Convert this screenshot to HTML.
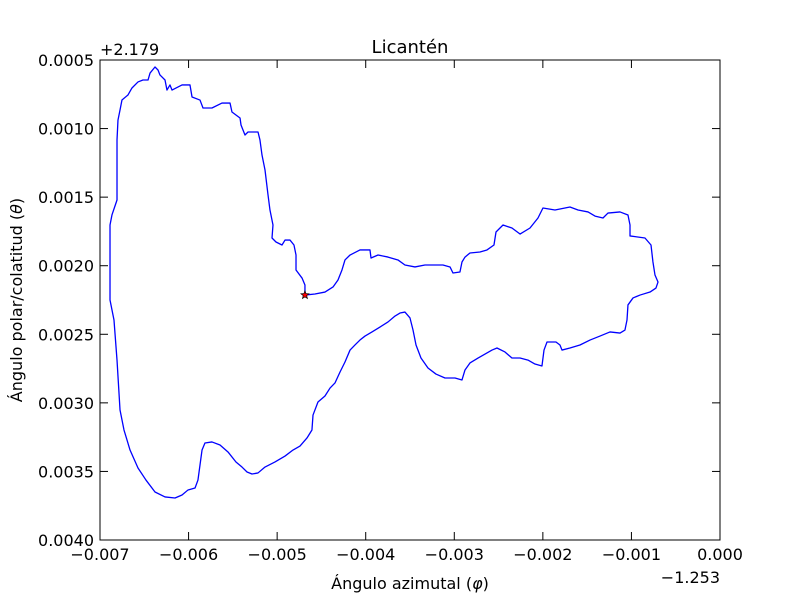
<!DOCTYPE html>
<html><head><meta charset="utf-8"><style>
body{margin:0;background:#fff;}
svg text{font-family:"DejaVu Sans","Liberation Sans",sans-serif;fill:#000;}
</style></head><body>
<svg id="chart" width="800" height="600" xmlns="http://www.w3.org/2000/svg">
<rect width="800" height="600" fill="#fff"/>
<text x="410" y="53" font-size="18" text-anchor="middle">Licantén</text>
<text x="100" y="55" font-size="16">+2.179</text>
<text x="720" y="583" font-size="16" text-anchor="end">−1.253</text>
<text x="410" y="589" font-size="16" text-anchor="middle">Ángulo azimutal (<tspan font-style="italic">φ</tspan>)</text>
<text transform="translate(22,300) rotate(-90)" font-size="16" text-anchor="middle">Ángulo polar/colatitud (<tspan font-style="italic">θ</tspan>)</text>
<g id="ticks"></g>
<g id="plot"></g>
<rect x="100" y="60" width="620" height="480" fill="none" stroke="#000" stroke-width="1"/>
</svg>
<script>
// values in units of 1e-3 (offsets: phi + -1.253, theta + 2.179)
const phi = [-4.686,-4.686,-4.719,-4.787,-4.787,-4.810,-4.855,-4.911,-4.945,-5.013,-5.058,-5.047,-5.081,-5.103,-5.137,-5.171,-5.194,-5.216,-5.329,-5.363,-5.408,-5.419,-5.465,-5.510,-5.532,-5.623,-5.736,-5.837,-5.871,-5.961,-5.984,-6.074,-6.187,-6.210,-6.244,-6.266,-6.323,-6.345,-6.379,-6.435,-6.458,-6.515,-6.571,-6.639,-6.684,-6.752,-6.774,-6.797,-6.808,-6.808,-6.865,-6.887,-6.887,-6.842,-6.808,-6.774,-6.729,-6.661,-6.571,-6.481,-6.379,-6.266,-6.153,-6.074,-6.006,-5.927,-5.894,-5.871,-5.848,-5.815,-5.736,-5.645,-5.555,-5.465,-5.397,-5.340,-5.284,-5.216,-5.137,-5.024,-4.911,-4.821,-4.742,-4.663,-4.607,-4.595,-4.539,-4.460,-4.403,-4.347,-4.290,-4.234,-4.177,-4.121,-4.065,-4.008,-3.929,-3.839,-3.748,-3.669,-3.613,-3.557,-3.500,-3.466,-3.432,-3.376,-3.297,-3.207,-3.105,-2.992,-2.913,-2.879,-2.823,-2.732,-2.653,-2.574,-2.518,-2.428,-2.349,-2.258,-2.168,-2.089,-2.010,-1.987,-1.953,-1.852,-1.807,-1.784,-1.694,-1.581,-1.468,-1.355,-1.242,-1.129,-1.073,-1.050,-1.039,-0.982,-0.903,-0.790,-0.723,-0.700,-0.734,-0.757,-0.779,-0.847,-1.016,-1.016,-1.039,-1.129,-1.265,-1.321,-1.411,-1.490,-1.603,-1.694,-1.863,-1.999,-2.055,-2.145,-2.258,-2.349,-2.450,-2.529,-2.552,-2.631,-2.710,-2.823,-2.879,-2.913,-2.936,-3.015,-3.048,-3.128,-3.218,-3.331,-3.444,-3.557,-3.636,-3.748,-3.861,-3.940,-3.952,-4.065,-4.177,-4.234,-4.268,-4.313,-4.369,-4.460,-4.573,-4.686];
const theta = [2.214,2.141,2.090,2.031,1.922,1.849,1.813,1.813,1.849,1.827,1.798,1.703,1.594,1.484,1.302,1.193,1.083,1.025,1.025,1.047,0.974,0.923,0.901,0.879,0.814,0.814,0.850,0.850,0.792,0.770,0.682,0.682,0.719,0.682,0.719,0.646,0.609,0.573,0.551,0.595,0.646,0.646,0.660,0.704,0.755,0.792,0.865,0.938,1.083,1.521,1.630,1.703,2.250,2.396,2.688,3.052,3.198,3.344,3.475,3.563,3.650,3.686,3.694,3.672,3.635,3.621,3.563,3.453,3.344,3.293,3.285,3.307,3.358,3.431,3.468,3.504,3.519,3.511,3.468,3.431,3.388,3.344,3.315,3.256,3.198,3.089,2.994,2.950,2.892,2.855,2.775,2.702,2.615,2.578,2.542,2.513,2.483,2.447,2.410,2.367,2.345,2.338,2.381,2.469,2.578,2.673,2.746,2.790,2.819,2.819,2.833,2.760,2.709,2.673,2.644,2.615,2.600,2.629,2.673,2.673,2.688,2.717,2.731,2.615,2.556,2.556,2.578,2.615,2.600,2.578,2.542,2.513,2.483,2.491,2.469,2.396,2.286,2.235,2.214,2.192,2.163,2.119,2.068,1.973,1.849,1.798,1.783,1.703,1.630,1.608,1.616,1.652,1.638,1.608,1.594,1.572,1.594,1.579,1.652,1.725,1.769,1.725,1.703,1.754,1.849,1.885,1.900,1.907,1.937,1.973,2.046,2.053,2.009,1.995,1.995,1.995,2.009,1.995,1.958,1.937,1.922,1.944,1.885,1.885,1.922,1.958,2.031,2.104,2.155,2.192,2.206,2.214];
const xTicks = [-0.007,-0.006,-0.005,-0.004,-0.003,-0.002,-0.001,0.000];
const xTickLabels = ["−0.007","−0.006","−0.005","−0.004","−0.003","−0.002","−0.001","0.000"];
const yTicks = [0.0005,0.0010,0.0015,0.0020,0.0025,0.0030,0.0035,0.0040];
const yTickLabels = ["0.0005","0.0010","0.0015","0.0020","0.0025","0.0030","0.0035","0.0040"];

const NS="http://www.w3.org/2000/svg";
const L=100,R=720,T=60,B=540;
const xMin=-0.007,xMax=0,yMin=0.0005,yMax=0.004;
function sx(v){return L+(v-xMin)/(xMax-xMin)*(R-L);}
function sy(v){return T+(v-yMin)/(yMax-yMin)*(B-T);}
function mk(tag,attrs){const e=document.createElementNS(NS,tag);for(const k in attrs)e.setAttribute(k,attrs[k]);return e;}
const tg=document.getElementById('ticks');
xTicks.forEach((v,i)=>{
  const x=sx(v);
  const t1=mk('line',{x1:x,y1:B,x2:x,y2:B-8,stroke:'#000'});
  
  
  tg.appendChild(t1);
  const t2=mk('line',{x1:x,y1:T,x2:x,y2:T+8,stroke:'#000'});
  
  
  tg.appendChild(t2);
  const tx=mk('text',{x:x,y:B+20,'font-size':16,'text-anchor':'middle'});
  tx.textContent=xTickLabels[i];
  
  
  tg.appendChild(tx);
});
yTicks.forEach((v,i)=>{
  const y=sy(v);
  const t1=mk('line',{x1:L,y1:y,x2:L+8,y2:y,stroke:'#000'});
  
  
  tg.appendChild(t1);
  const t2=mk('line',{x1:R,y1:y,x2:R-8,y2:y,stroke:'#000'});
  
  
  tg.appendChild(t2);
  const tx=mk('text',{x:L-6,y:y+6,'font-size':16,'text-anchor':'end'});
  tx.textContent=yTickLabels[i];
  
  
  tg.appendChild(tx);
});
const pg=document.getElementById('plot');
let d='';
phi.forEach((p,i)=>{d+=(i?'L':'M')+sx(p*1e-3).toFixed(2)+','+sy(theta[i]*1e-3).toFixed(2);});
const path=mk('path',{d:d,fill:'none',stroke:'#0000ff','stroke-width':1.3,'stroke-linejoin':'round'});


pg.appendChild(path);
// star marker at start
const cx=sx(phi[0]*1e-3),cy=sy(theta[0]*1e-3);
let sp='';
for(let k=0;k<10;k++){const r=k%2?1.8:4.2;const a=-Math.PI/2+k*Math.PI/5;sp+=(cx+r*Math.cos(a)).toFixed(2)+','+(cy+r*Math.sin(a)).toFixed(2)+' ';}
const star=mk('polygon',{points:sp,fill:'#ff0000',stroke:'#000','stroke-width':0.7});


pg.appendChild(star);
</script>
</body></html>
